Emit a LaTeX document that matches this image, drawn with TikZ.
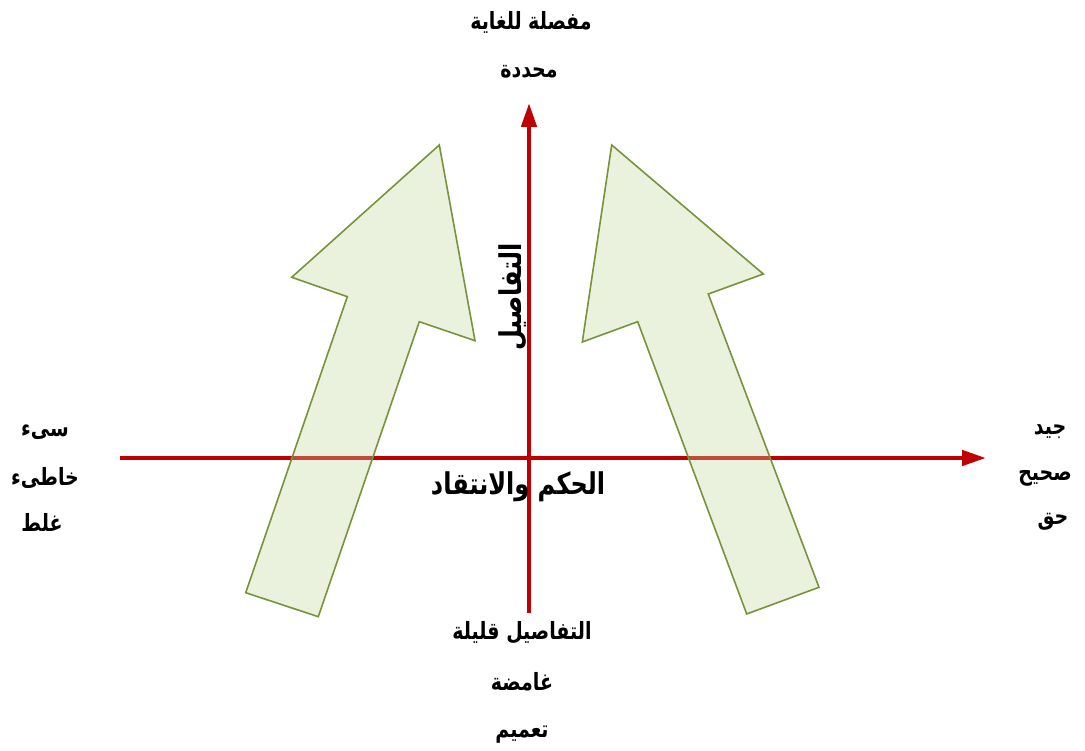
\documentclass[tikz,border=0pt]{standalone}
\usepackage{fontspec}
\usetikzlibrary{arrows.meta}
\TeXXeTstate=1
\newfontfamily\arabicfont[Script=Arabic]{DejaVu Sans}
\newcommand\artxt[1]{\scalebox{1}[1.25]{\beginR #1\endR}}
\definecolor{axisred}{HTML}{C00000}
\definecolor{arrowfill}{HTML}{C3D69B}
\definecolor{arrowline}{HTML}{77933C}
\begin{document}
\begin{tikzpicture}[x=1pt,y=-1pt,
  lbl/.style={font=\arabicfont\bfseries\fontsize{19}{22}\selectfont, inner sep=0pt},
  biglbl/.style={font=\arabicfont\bfseries\fontsize{24}{28}\selectfont, inner sep=0pt},
  axis/.style={draw=axisred, line width=4.5pt, -{Triangle[length=24pt,width=15pt]}},
  bigarrow/.style={draw=arrowline, line width=1.6pt, fill=arrowfill, fill opacity=0.35, line join=miter}]
\useasboundingbox (0,0) rectangle (1085,751);
% axes
\coordinate (hstart) at (120,458);
\coordinate (hend) at (986,458);
\coordinate (vstart) at (529,613);
\coordinate (vend) at (529,103);
\draw[axis] (hstart) -- (hend);
\draw[axis] (vstart) -- (vend);
% big arrows
\draw[bigarrow] (439.3,145) -- (475,340.7) -- (419.3,321.7) -- (318.3,616.7) -- (245.7,592.7) -- (347.3,296.7) -- (291.7,277.3) -- cycle;
\draw[bigarrow] (611.7,145) -- (763.3,274) -- (708.3,294) -- (819,587.3) -- (746.7,614) -- (637.7,321.7) -- (582.3,342) -- cycle;
% labels
\node[lbl] (top1) at (531,22) {\artxt{مفصلة للغاية}};
\node[lbl] (top2) at (529,72) {\artxt{محددة}};
\node[biglbl, rotate=90] (vlab) at (513,297) {\artxt{التفاصيل}};
\node[lbl] (left1) at (45,432) {\artxt{سىء}};
\node[lbl] (left2) at (45,478) {\artxt{خاطىء}};
\node[lbl] (left3) at (42,522) {\artxt{غلط}};
\node[lbl] (right1) at (1050,432) {\artxt{جيد}};
\node[lbl] (right2) at (1045,478) {\artxt{صحيح}};
\node[lbl] (right3) at (1053,522) {\artxt{حق}};
\node[biglbl] (mid) at (518,487) {\artxt{الحكم والانتقاد}};
\node[lbl] (bot1) at (522,633) {\artxt{التفاصيل قليلة}};
\node[lbl] (bot2) at (522,682) {\artxt{غامضة}};
\node[lbl] (bot3) at (522,735) {\artxt{تعميم}};
\end{tikzpicture}
\end{document}
